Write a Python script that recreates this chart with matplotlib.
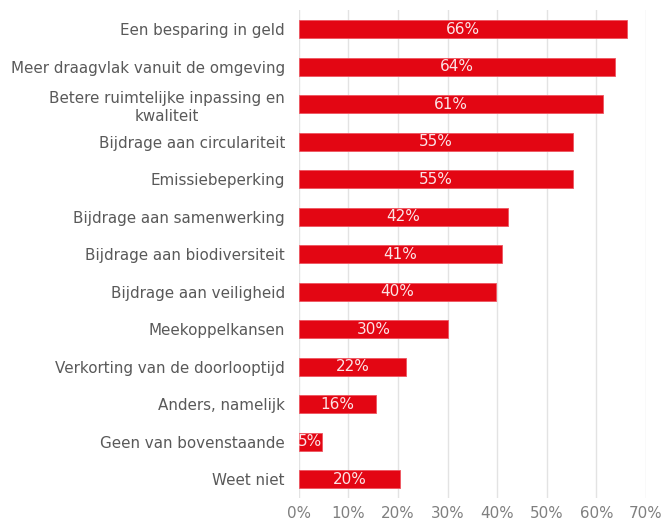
import matplotlib
matplotlib.use("Agg")
import matplotlib.pyplot as plt

categories = [
    "Een besparing in geld",
    "Meer draagvlak vanuit de omgeving",
    "Betere ruimtelijke inpassing en\nkwaliteit",
    "Bijdrage aan circulariteit",
    "Emissiebeperking",
    "Bijdrage aan samenwerking",
    "Bijdrage aan biodiversiteit",
    "Bijdrage aan veiligheid",
    "Meekoppelkansen",
    "Verkorting van de doorlooptijd",
    "Anders, namelijk",
    "Geen van bovenstaande",
    "Weet niet",
]
values = [66.2, 63.7, 61.3, 55.4, 55.3, 42.1, 41.0, 39.7, 30.1, 21.7, 15.6, 4.7, 20.4]
labels = ["66%", "64%", "61%", "55%", "55%", "42%", "41%", "40%", "30%", "22%", "16%", "5%", "20%"]
xticks = [0, 10, 20, 30, 40, 50, 60, 70]
xticklabels = ["0%", "10%", "20%", "30%", "40%", "50%", "60%", "70%"]

fig = plt.figure(figsize=(6.7, 5.24), dpi=100)
ax = fig.add_axes([0.446, 0.050, 0.518, 0.930])

ypos = list(range(len(categories)))
bars = ax.barh(ypos, values, height=0.48, color="#E30613", edgecolor="#EE5560", linewidth=0.6, zorder=3)

for b, v, lab in zip(bars, values, labels):
    t = ax.text(v / 2, b.get_y() + b.get_height() / 2, lab, ha="center", va="center",
                color="#FBE3E5", fontsize=11, zorder=4)
    t.set_clip_path(b)

ax.set_xlim(0, 70)
ax.set_ylim(len(categories) - 0.5, -0.5)
ax.set_xticks(xticks)
ax.set_xticklabels(xticklabels, color="#7F7F7F", fontsize=10.9)
ax.set_yticks(ypos)
ax.set_yticklabels(categories, color="#595959", fontsize=10.9, multialignment="center", linespacing=1.25)
ax.tick_params(axis="y", length=0, pad=10)
ax.tick_params(axis="x", length=0, pad=6)
for s in ax.spines.values():
    s.set_visible(False)
ax.grid(axis="x", color="#E3E3E3", linewidth=1, zorder=0)
ax.set_axisbelow(True)

fig.savefig("out.png", dpi=100)
